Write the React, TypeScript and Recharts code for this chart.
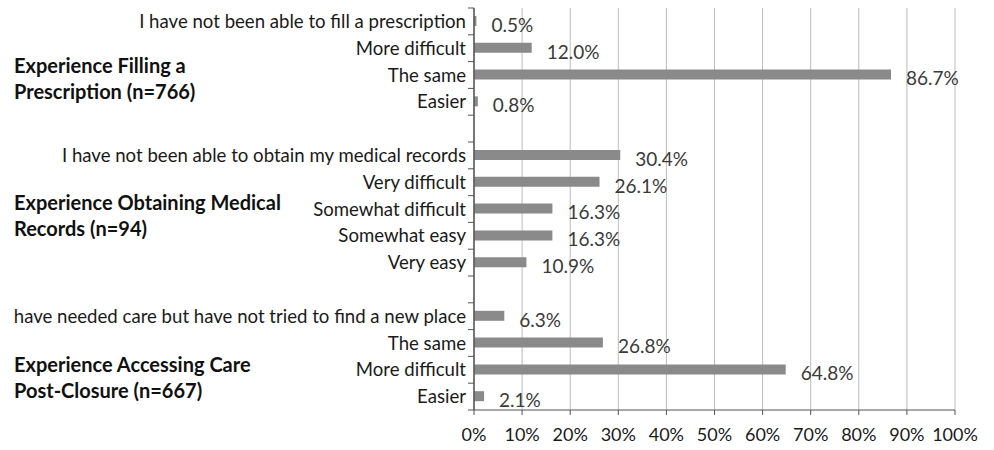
import React from "react";
import {
  BarChart,
  Bar,
  XAxis,
  YAxis,
  CartesianGrid,
  LabelList,
} from "recharts";

const prescriptionLabels = [
  "I have not been able to fill a prescription",
  "More difficult",
  "The same",
  "Easier",
];
const prescriptionValues = [0.5, 12.0, 86.7, 0.8];

const recordsLabels = [
  "I have not been able to obtain my medical records",
  "Very difficult",
  "Somewhat difficult",
  "Somewhat easy",
  "Very easy",
];
const recordsValues = [30.4, 26.1, 16.3, 16.3, 10.9];

const careLabels = [
  "have needed care but have not tried to find a new place",
  "The same",
  "More difficult",
  "Easier",
];
const careValues = [6.3, 26.8, 64.8, 2.1];

const groupTitles = [
  ["Experience Filling a", "Prescription (n=766)"],
  ["Experience Obtaining Medical", "Records (n=94)"],
  ["Experience Accessing Care", "Post-Closure (n=667)"],
];

const xTicks = [0, 10, 20, 30, 40, 50, 60, 70, 80, 90, 100];

interface Row {
  key: string;
  label: string;
  value: number | null;
}

const toRows = (prefix: string, labels: string[], values: number[]): Row[] =>
  labels.map((label, i) => ({ key: `${prefix}${i}`, label, value: values[i] }));

// blank rows separate the three groups
const rows: Row[] = [
  ...toRows("p", prescriptionLabels, prescriptionValues),
  { key: "gap1", label: "", value: null },
  ...toRows("r", recordsLabels, recordsValues),
  { key: "gap2", label: "", value: null },
  ...toRows("c", careLabels, careValues),
];

const W = 994;
const H = 450;
const TOP = 8;
const X_AXIS_H = 40;
const Y_AXIS_W = 474;
const ROW_H = (H - TOP - X_AXIS_H) / rows.length;
const FONT = "Lato, 'Open Sans', sans-serif";

// category label plus a tick mark on the boundary between rows
function CategoryTick(props: any) {
  const { x, y, payload, index } = props;
  const row = rows[index] ?? rows.find((r) => r.key === payload.value);
  const axisX = x + 8;
  return (
    <g>
      <line x1={axisX - 6} x2={axisX} y1={y - ROW_H / 2} y2={y - ROW_H / 2} stroke="#555" />
      {index === rows.length - 1 && (
        <line x1={axisX - 6} x2={axisX} y1={y + ROW_H / 2} y2={y + ROW_H / 2} stroke="#555" />
      )}
      <text x={x} y={y} dy="0.35em" textAnchor="end" fill="#1a1a1a" fontSize={18.6} fontFamily={FONT}>
        {row ? row.label : ""}
      </text>
    </g>
  );
}

const groupTitleTops = [52, 189, 351];

export default function App() {
  return (
    <div style={{ position: "fixed", left: 0, top: 0, width: W, height: H, background: "#fff" }}>
      <BarChart
        width={W}
        height={H}
        data={rows}
        layout="vertical"
        margin={{ top: TOP, right: 39, bottom: 0, left: 0 }}
      >
        <CartesianGrid horizontal={false} stroke="#bdbdbd" />
        <XAxis
          type="number"
          domain={[0, 100]}
          ticks={xTicks}
          interval={0}
          height={X_AXIS_H}
          tickFormatter={(v: number) => `${v}%`}
          tick={{ fill: "#1a1a1a", fontSize: 18, fontFamily: FONT }}
          tickSize={5}
          tickMargin={13}
          axisLine={{ stroke: "#555" }}
          tickLine={{ stroke: "#555" }}
        />
        <YAxis
          type="category"
          dataKey="key"
          width={Y_AXIS_W}
          interval={0}
          tick={<CategoryTick />}
          tickLine={false}
          axisLine={{ stroke: "#555", strokeWidth: 1.5 }}
        />
        <Bar dataKey="value" fill="#8a8a8a" barSize={10} isAnimationActive={false}>
          <LabelList
            dataKey="value"
            position="right"
            offset={15}
            formatter={(v: any) => (v == null ? "" : `${Number(v).toFixed(1)}%`)}
            fill="#3a3a3a"
            fontSize={19}
            fontFamily={FONT}
            dy={4}
          />
        </Bar>
      </BarChart>
      {groupTitles.map((lines, i) => (
        <div
          key={i}
          style={{
            position: "absolute",
            left: 14,
            top: groupTitleTops[i],
            fontFamily: FONT,
            fontWeight: 700,
            fontSize: 20,
            lineHeight: "26px",
            color: "#111",
          }}
        >
          {lines.map((l) => (
            <div key={l}>{l}</div>
          ))}
        </div>
      ))}
    </div>
  );
}
